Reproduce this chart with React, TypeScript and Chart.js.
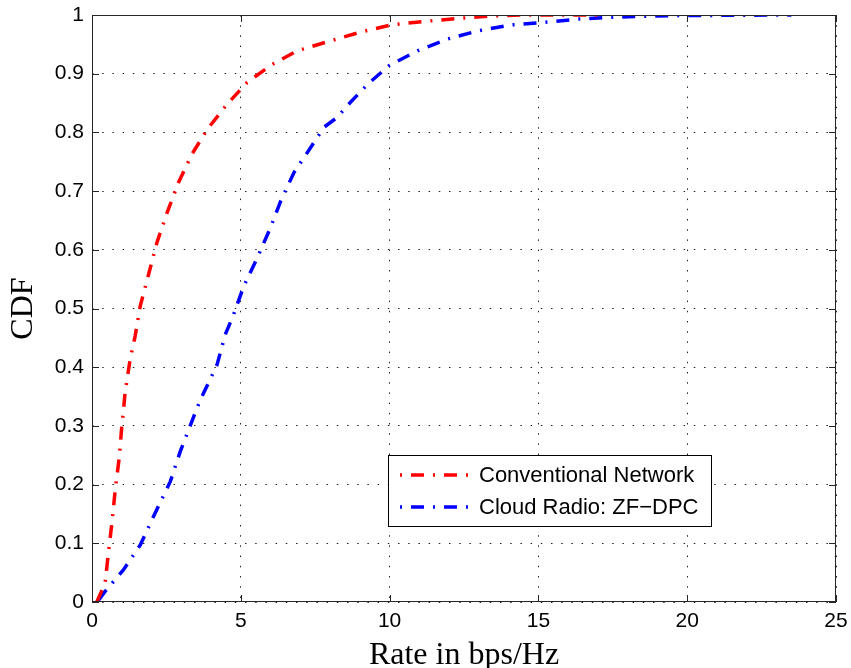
import React, { useEffect, useRef } from "react";
import { Chart, registerables } from "chart.js";

Chart.register(...registerables);

const convX = [0.16, 0.44, 0.55, 0.67, 0.78, 0.92, 1.0, 1.06, 1.11, 1.28, 1.45, 1.62, 1.9, 2.18, 2.52, 2.91, 3.36, 3.87, 4.54, 5.21, 6.06, 6.9, 8.02, 9.03, 10.04, 11.15, 12.27, 13.27, 14.42, 17.0];
const convY = [0.0, 0.032, 0.083, 0.135, 0.191, 0.248, 0.299, 0.328, 0.356, 0.413, 0.453, 0.504, 0.558, 0.612, 0.663, 0.715, 0.763, 0.805, 0.848, 0.885, 0.916, 0.939, 0.956, 0.971, 0.983, 0.989, 0.994, 0.998, 1.0, 1.0];

const cloudX = [0.22, 0.44, 1.06, 1.62, 2.07, 2.63, 2.97, 3.36, 3.53, 3.75, 4.2, 4.48, 4.76, 5.1, 5.55, 6.0, 6.34, 6.79, 7.24, 7.8, 8.25, 8.53, 9.26, 9.99, 10.94, 11.95, 12.97, 14.07, 15.1, 16.33, 17.34, 19.5, 23.5];
const cloudY = [0.003, 0.018, 0.055, 0.097, 0.146, 0.205, 0.257, 0.308, 0.331, 0.356, 0.404, 0.456, 0.49, 0.538, 0.586, 0.638, 0.683, 0.732, 0.766, 0.809, 0.826, 0.843, 0.882, 0.914, 0.939, 0.959, 0.973, 0.983, 0.987, 0.993, 0.996, 0.999, 1.0];

const seriesLabels = ["Conventional Network", "Cloud Radio: ZF\u2212DPC"];
const seriesColors = ["#ff0000", "#0000ff"];
const xTitle = "Rate in bps/Hz";
const yTitle = "CDF";

const DASH = [13, 9, 2, 9];

const boxPlugin = {
  id: "boxTicks",
  afterDatasetsDraw(chart: any) {
    const { ctx, chartArea: a, scales } = chart;
    ctx.save();
    ctx.strokeStyle = "#262626";
    ctx.lineWidth = 1;
    ctx.setLineDash([]);
    ctx.strokeRect(a.left + 0.5, a.top + 0.5, a.right - a.left - 1, a.bottom - a.top - 1);
    const L = 7;
    ctx.beginPath();
    scales.x.ticks.forEach((t: any) => {
      const px = Math.round(scales.x.getPixelForValue(t.value)) + 0.5;
      ctx.moveTo(px, a.bottom);
      ctx.lineTo(px, a.bottom - L);
      ctx.moveTo(px, a.top);
      ctx.lineTo(px, a.top + L);
    });
    scales.y.ticks.forEach((t: any) => {
      const py = Math.round(scales.y.getPixelForValue(t.value)) + 0.5;
      ctx.moveTo(a.left, py);
      ctx.lineTo(a.left + L, py);
      ctx.moveTo(a.right, py);
      ctx.lineTo(a.right - L, py);
    });
    ctx.stroke();

    // legend
    const lx = 388, ly = 455, lw = 323, lh = 71;
    ctx.fillStyle = "#ffffff";
    ctx.fillRect(lx, ly, lw, lh);
    ctx.strokeStyle = "#000000";
    ctx.strokeRect(lx + 0.5, ly + 0.5, lw, lh);
    const rows = [475, 507];
    chart.data.datasets.forEach((ds: any, i: number) => {
      const y = rows[i];
      ctx.strokeStyle = ds.borderColor;
      ctx.lineWidth = 3.5;
      ctx.setLineDash([2, 9, 13, 9]);
      ctx.beginPath();
      ctx.moveTo(400, y);
      ctx.lineTo(470, y);
      ctx.stroke();
      ctx.setLineDash([]);
      ctx.fillStyle = "#000000";
      ctx.font = "22px 'Liberation Sans', Arial, sans-serif";
      ctx.textBaseline = "middle";
      ctx.textAlign = "left";
      ctx.fillText(ds.label, 479, y + 1);
    });
    ctx.restore();
  },
};

export default function App() {
  const ref = useRef<HTMLCanvasElement | null>(null);
  useEffect(() => {
    if (!ref.current) return;
    const mk = (xs: number[], ys: number[]) => xs.map((x, i) => ({ x, y: ys[i] }));
    const tickFont = { family: "'Liberation Sans', Arial, sans-serif", size: 21 };
    const titleFont = { family: "'Liberation Serif', 'Times New Roman', serif", size: 32 };
    const chart = new Chart(ref.current, {
      type: "line",
      data: {
        datasets: [
          {
            label: seriesLabels[0],
            data: mk(convX, convY),
            borderColor: seriesColors[0],
            borderWidth: 3.5,
            borderDash: DASH,
            borderCapStyle: "butt",
            pointRadius: 0,
            fill: false,
            tension: 0,
          },
          {
            label: seriesLabels[1],
            data: mk(cloudX, cloudY),
            borderColor: seriesColors[1],
            borderWidth: 3.5,
            borderDash: DASH,
            borderCapStyle: "butt",
            pointRadius: 0,
            fill: false,
            tension: 0,
          },
        ],
      },
      options: {
        animation: false,
        responsive: false,
        maintainAspectRatio: false,
        layout: { padding: { left: 0, right: 15, top: 15, bottom: 0 } },
        plugins: { legend: { display: false }, tooltip: { enabled: false } },
        scales: {
          x: {
            type: "linear",
            min: 0,
            max: 25,
            ticks: { stepSize: 5, font: tickFont, color: "#000", padding: 7, maxRotation: 0 },
            grid: { color: "#222", lineWidth: 1, drawTicks: false },
            border: { display: false, dash: [1.5, 8.7] },
            title: { display: true, text: xTitle, font: { ...titleFont, lineHeight: 0.8 }, color: "#000", padding: 0 },
            afterFit: (s: any) => {
              s.height = 66;
              s.paddingLeft = 0;
              s.paddingRight = 0;
            },
          },
          y: {
            type: "linear",
            min: 0,
            max: 1,
            ticks: {
              stepSize: 0.1,
              font: tickFont,
              color: "#000",
              padding: 8,
              callback: (v: any) => String(+Number(v).toFixed(1)),
            },
            grid: { color: "#222", lineWidth: 1, drawTicks: false },
            border: { display: false, dash: [1.5, 8.7] },
            title: { display: true, text: yTitle, font: { ...titleFont, lineHeight: 1.5 }, color: "#000", padding: 0 },
            afterFit: (s: any) => {
              s.width = 92;
              s.paddingTop = 0;
              s.paddingBottom = 0;
            },
          },
        },
      },
      plugins: [boxPlugin],
    } as any);
    return () => chart.destroy();
  }, []);
  return (
    <div style={{ position: "fixed", left: 0, top: 0, width: 851, height: 668, background: "#fff" }}>
      <canvas ref={ref} width={851} height={668} style={{ width: 851, height: 668 }} />
    </div>
  );
}
